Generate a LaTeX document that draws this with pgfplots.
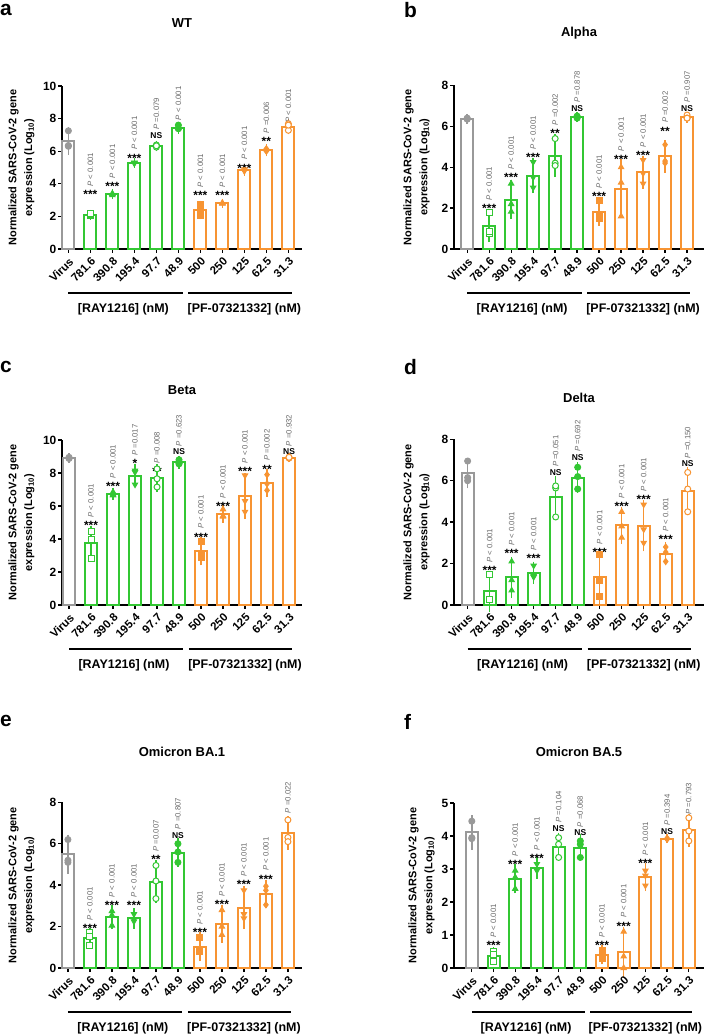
\documentclass[border=0pt]{standalone}
\usepackage{fontspec}
\setmainfont{Liberation Sans}
\usepackage{pgfplots}
\usepackage{pgfplotstable}
\pgfplotsset{compat=1.18}
\definecolor{cg}{RGB}{153,153,153}
\definecolor{cgr}{RGB}{51,199,51}
\definecolor{cor}{RGB}{247,148,50}
\definecolor{pgray}{RGB}{105,105,105}

\pgfdeclareplotmark{dtri*}{%
  \pgfpathmoveto{\pgfqpoint{0pt}{-\pgfplotmarksize}}%
  \pgfpathlineto{\pgfqpointpolar{30}{\pgfplotmarksize}}%
  \pgfpathlineto{\pgfqpointpolar{150}{\pgfplotmarksize}}%
  \pgfpathclose\pgfusepathqfillstroke}

% x mean sd p1 p2 p3 mk
\pgfplotstableread{
x m sd p1 p2 p3 mk
0 6.63 0.60 7.25 6.35 6.30 c
1 2.10 0.06 2.05 2.10 2.15 s
2 3.36 0.06 3.30 3.40 3.38 t
3 5.28 0.05 5.25 5.30 5.28 d
4 6.32 0.08 6.25 6.38 6.33 o
5 7.45 0.12 7.60 7.38 7.40 c
6 2.40 0.32 2.70 2.45 2.05 S
7 2.80 0.04 2.78 2.83 2.80 t
8 4.82 0.08 4.88 4.78 4.80 d
9 6.07 0.14 6.15 6.00 6.08 D
10 7.50 0.22 7.68 7.28 7.60 o
}\tA
\pgfplotstableread{
x m sd p1 p2 p3 mk
0 6.37 0.04 6.35 6.40 6.36 c
1 1.13 0.60 1.80 0.75 0.85 s
2 2.41 0.75 3.20 2.20 1.83 t
3 3.58 0.65 4.25 3.50 3.00 d
4 4.56 0.85 5.40 4.20 4.08 o
5 6.45 0.05 6.45 6.40 6.50 c
6 1.82 0.50 2.35 1.60 1.50 S
7 2.95 1.25 4.00 3.25 1.60 t
8 3.75 0.60 4.35 3.70 3.20 d
9 4.53 0.60 5.10 4.30 4.20 D
10 6.45 0.07 6.55 6.40 6.40 o
}\tB
\pgfplotstableread{
x m sd p1 p2 p3 mk
0 8.90 0.05 8.90 8.95 8.88 c
1 3.74 0.82 4.45 3.94 2.83 s
2 6.73 0.12 6.85 6.70 6.65 t
3 7.83 0.45 8.15 8.05 7.30 d
4 7.68 0.60 8.25 7.65 7.15 o
5 8.65 0.15 8.80 8.60 8.55 c
6 3.25 0.60 3.85 3.00 2.90 S
7 5.52 0.30 5.80 5.35 5.40 t
8 6.60 1.15 7.85 6.30 5.65 d
9 7.40 0.60 7.90 7.35 6.95 D
10 8.93 0.04 8.95 8.90 8.95 o
}\tC
\pgfplotstableread{
x m sd p1 p2 p3 mk
0 6.37 0.55 6.95 6.15 6.00 c
1 0.67 0.80 1.48 0.28 0.25 s
2 1.33 0.80 2.10 1.20 0.70 t
3 1.55 0.35 1.90 1.35 1.40 d
4 5.22 0.80 5.65 5.75 4.25 o
5 6.15 0.55 6.65 6.20 5.60 c
6 1.35 1.10 2.45 1.20 0.40 S
7 3.85 0.70 4.50 3.80 3.25 t
8 3.83 1.05 4.85 3.65 3.00 d
9 2.48 0.38 2.80 2.55 2.10 D
10 5.50 0.95 6.40 5.60 4.50 o
}\tD
\pgfplotstableread{
x m sd p1 p2 p3 mk
0 5.50 0.75 6.20 5.20 5.10 c
1 1.43 0.30 1.70 1.50 1.10 s
2 2.45 0.38 2.75 2.55 2.05 t
3 2.40 0.30 2.60 2.35 2.25 d
4 4.17 0.85 4.95 4.20 3.35 o
5 5.57 0.50 6.00 5.60 5.10 c
6 1.03 0.50 1.45 0.85 0.80 S
7 2.13 0.72 2.80 2.00 1.60 t
8 2.92 0.85 3.75 2.60 2.40 d
9 3.58 0.47 3.95 3.75 3.05 D
10 6.52 0.62 7.15 6.30 6.10 o
}\tE
\pgfplotstableread{
x m sd p1 p2 p3 mk
0 4.11 0.40 4.45 3.95 3.92 c
1 0.37 0.15 0.50 0.40 0.20 s
2 2.70 0.32 2.95 2.75 2.40 t
3 3.03 0.20 3.15 3.00 2.95 d
4 3.68 0.30 3.95 3.75 3.35 o
5 3.65 0.28 3.85 3.75 3.35 c
6 0.40 0.17 0.52 0.38 0.30 S
7 0.48 0.65 1.10 0.35 0.00 t
8 2.75 0.30 2.95 2.80 2.50 d
9 3.92 0.02 3.93 3.90 3.92 D
10 4.18 0.38 4.55 4.15 3.85 o
}\tF

\pgfplotsset{
  panel/.style={
    scale only axis, clip=false,
    axis x line*=bottom, axis y line*=left,
    axis line style={line width=1.3bp, black, -},
    ymin=0,
    xtick={0,...,10},
    xticklabels={},
    every y tick label/.style={anchor=east, font=\bfseries\fontsize{12}{12}\selectfont, inner sep=1.5bp},
    /pgf/number format/assume math mode=true,
    tick align=outside, major tick length=4bp,
    tick style={line width=1.3bp, black},
    ylabel={Normalized SARS-CoV-2 gene\\expression (Log\textsubscript{10})},
  },
  ylab/.style={every axis y label/.style={at={(axis description cs:#1,0.5)}, rotate=90, anchor=center,
     align=center, font=\bfseries\fontsize{11}{16}\selectfont}},
  dots/.style={scatter, only marks, scatter src=explicit symbolic, mark size=3bp, line width=1bp, color=#1,
    scatter/classes={c={mark=*}, o={mark=*, fill=white}, s={mark=square*, fill=white},
      S={mark=square*}, t={mark=triangle*}, d={mark=dtri*}, D={mark=diamond*}}},
}

\newcommand\grp[4]{%
  \addplot[ybar, bar width=12bp, bar shift=0pt, draw=#2, fill=white, line width=2bp,
    restrict x to domain=#3:#4,
    error bars/.cd, y dir=both, y explicit,
    error bar style={line width=1.5bp, draw=#2},
    error mark options={line width=1.5bp, mark size=4bp, draw=#2}]
    table[x=x, y=m, y error=sd] {#1};
  \addplot[dots=#2, restrict x to domain=#3:#4] table[x=x, y=p1, meta=mk] {#1};
  \addplot[dots=#2, restrict x to domain=#3:#4] table[x=x, y=p2, meta=mk] {#1};
  \addplot[dots=#2, restrict x to domain=#3:#4] table[x=x, y=p3, meta=mk] {#1};
}
\newcommand\allgrp[1]{\grp{#1}{cg}{-0.5}{0.5}\grp{#1}{cgr}{0.5}{5.5}\grp{#1}{cor}{5.5}{10.5}}

\newcommand\pl{\textit{P} < 0.001}
\newcommand\pe[1]{\textit{P} =#1}
\newcommand\st[4]{%
  \node[anchor=base, inner sep=0pt, font=\bfseries\fontsize{12}{12}\selectfont] at ([yshift=-7bp]axis cs:#1,#2) {#3};
  \node[rotate=90, anchor=west, inner sep=0pt, font=\fontsize{7.8}{7.8}\selectfont, text=pgray] at ([yshift=5bp]axis cs:#1,#2) {#4};}
\newcommand\nsig[3]{%
  \node[anchor=base, inner sep=0pt, font=\bfseries\fontsize{8.5}{8.5}\selectfont] at ([yshift=-3bp]axis cs:#1,#2) {NS};
  \node[rotate=90, anchor=west, inner sep=0pt, font=\fontsize{7.8}{7.8}\selectfont, text=pgray] at ([yshift=5.5bp]axis cs:#1,#2) {#3};}
\newcommand\ponly[3]{%
  \node[rotate=90, anchor=west, inner sep=0pt, font=\fontsize{7.8}{7.8}\selectfont, text=pgray] at (axis cs:#1,#2) {#3};}
\newcommand\xl[2]{\node[rotate=45, anchor=north east, inner sep=0pt, font=\bfseries\fontsize{11.5}{11.5}\selectfont] at ([xshift=0bp,yshift=-7.5bp]axis cs:#1,0) {#2};}
\newcommand\groups{%
  \xl{0}{Virus}\xl{1}{781.6}\xl{2}{390.8}\xl{3}{195.4}\xl{4}{97.7}\xl{5}{48.9}%
  \xl{6}{500}\xl{7}{250}\xl{8}{125}\xl{9}{62.5}\xl{10}{31.3}%
  \draw[line width=1.2bp] ([yshift=-44bp]axis cs:0,0) -- ([yshift=-44bp]axis cs:5.2,0);
  \draw[line width=1.2bp] ([yshift=-44bp]axis cs:5.45,0) -- ([yshift=-44bp]axis cs:10.15,0);
  \node[font=\bfseries\fontsize{12.5}{12.5}\selectfont] at ([yshift=-60bp]axis cs:2.5,0) {[RAY1216] (nM)};
  \node[font=\bfseries\fontsize{12.5}{12.5}\selectfont] at ([yshift=-60bp]axis cs:8.0,0) {[PF-07321332] (nM)};}
\newcommand\ttl[2]{\node[font=\bfseries\fontsize{13}{13}\selectfont] at ([yshift=#2]rel axis cs:0.5,1) {#1};}

\begin{document}
\begin{tikzpicture}
\path[use as bounding box] (0,0) rectangle (707bp,1034bp);
% panel letters
\node[anchor=base west, inner sep=0pt, font=\bfseries\fontsize{21}{21}\selectfont] at (0bp,1018bp) {a};
\node[anchor=base west, inner sep=0pt, font=\bfseries\fontsize{21}{21}\selectfont] at (404bp,1016bp) {b};
\node[anchor=base west, inner sep=0pt, font=\bfseries\fontsize{21}{21}\selectfont] at (0bp,661bp) {c};
\node[anchor=base west, inner sep=0pt, font=\bfseries\fontsize{21}{21}\selectfont] at (404bp,659bp) {d};
\node[anchor=base west, inner sep=0pt, font=\bfseries\fontsize{21}{21}\selectfont] at (0bp,307bp) {e};
\node[anchor=base west, inner sep=0pt, font=\bfseries\fontsize{21}{21}\selectfont] at (404bp,304bp) {f};

% ---------- a ----------
\begin{axis}[panel, ylab=-0.169, at={(62bp,785bp)}, anchor=south west,
  width=240bp, height=163bp, xmin=-0.29, xmax=10.62, ymax=10, ytick={0,2,...,10}]
\allgrp{\tA}
\st{1}{3.52}{***}{\pl}
\st{2}{4.03}{***}{\pl}
\st{3}{5.76}{***}{\pl}
\nsig{4}{6.99}{\pe{0.079}}
\ponly{5}{7.9}{\pl}
\st{6}{3.46}{***}{\pl}
\st{7}{3.46}{***}{\pl}
\st{8}{5.15}{***}{\pl}
\st{9}{6.78}{**}{\pe{0.006}}
\ponly{10}{7.75}{\pl}
\groups
\ttl{WT}{63bp}
\end{axis}

% ---------- b ----------
\begin{axis}[panel, ylab=-0.15, at={(454bp,785bp)}, anchor=south west,
  width=250bp, height=163.6bp, xmin=-0.6, xmax=10.77, ymax=8, ytick={0,2,...,8}]
\allgrp{\tB}
\st{1}{2.12}{***}{\pl}
\st{2}{3.63}{***}{\pl}
\st{3}{4.61}{***}{\pl}
\st{4}{5.8}{**}{\pe{0.002}}
\nsig{5}{6.89}{\pe{0.878}}
\st{6}{2.69}{***}{\pl}
\st{7}{4.53}{***}{\pl}
\st{8}{4.72}{***}{\pl}
\st{9}{5.91}{**}{\pe{0.002}}
\nsig{10}{6.89}{\pe{0.907}}
\groups
\ttl{Alpha}{52bp}
\end{axis}

% ---------- c ----------
\begin{axis}[panel, ylab=-0.169, at={(62bp,429bp)}, anchor=south west,
  width=240bp, height=165bp, xmin=-0.32, xmax=10.59, ymax=10, ytick={0,2,...,10}]
\allgrp{\tC}
\st{1}{4.99}{***}{\pl}
\st{2}{7.37}{***}{\pl}
\st{3}{8.73}{*}{\pe{0.017}}
\st{4}{8.28}{**}{\pe{0.008}}
\nsig{5}{9.29}{\pe{0.623}}
\st{6}{4.3}{***}{\pl}
\st{7}{6.16}{***}{\pl}
\st{8}{8.28}{***}{\pl}
\st{9}{8.42}{**}{\pe{0.002}}
\nsig{10}{9.29}{\pe{0.932}}
\groups
\ttl{Beta}{50bp}
\end{axis}

% ---------- d ----------
\begin{axis}[panel, ylab=-0.15, at={(454bp,429bp)}, anchor=south west,
  width=250bp, height=165.7bp, xmin=-0.62, xmax=10.74, ymax=8, ytick={0,2,...,8}]
\allgrp{\tD}
\st{1}{1.8}{***}{\pl}
\st{2}{2.61}{***}{\pl}
\st{3}{2.37}{***}{\pl}
\nsig{4}{6.39}{\pe{0.051}}
\nsig{5}{7.12}{\pe{0.692}}
\st{6}{2.69}{***}{\pl}
\st{7}{4.91}{***}{\pl}
\st{8}{5.23}{***}{\pl}
\st{9}{3.3}{***}{\pl}
\nsig{10}{6.81}{\pe{0.150}}
\groups
\ttl{Delta}{41bp}
\end{axis}

% ---------- e ----------
\begin{axis}[panel, ylab=-0.169, at={(62bp,66bp)}, anchor=south west,
  width=240bp, height=165.7bp, xmin=-0.27, xmax=10.64, ymax=8, ytick={0,2,...,8}]
\allgrp{\tE}
\st{1}{2.03}{***}{\pl}
\st{2}{3.16}{***}{\pl}
\st{3}{3.16}{***}{\pl}
\st{4}{5.37}{**}{\pe{0.007}}
\nsig{5}{6.42}{\pe{0.807}}
\st{6}{1.85}{***}{\pl}
\st{7}{3.19}{***}{\pl}
\st{8}{4.16}{***}{\pl}
\st{9}{4.44}{***}{\pl}
\ponly{10}{7.47}{\pe{0.022}}
\groups
\ttl{Omicron BA.1}{50bp}
\end{axis}

% ---------- f ----------
\begin{axis}[panel, ylab=-0.13, at={(454bp,66bp)}, anchor=south west,
  width=250bp, height=165bp, xmin=-0.82, xmax=10.7, ymax=5, ytick={0,1,...,5}]
\allgrp{\tF}
\st{1}{0.76}{***}{\pl}
\st{2}{3.23}{***}{\pl}
\st{3}{3.41}{***}{\pl}
\nsig{4}{4.24}{\pe{0.104}}
\nsig{5}{4.1}{\pe{0.068}}
\st{6}{0.76}{***}{\pl}
\st{7}{1.36}{***}{\pl}
\st{8}{3.25}{***}{\pl}
\nsig{9}{4.14}{\pe{0.394}}
\ponly{10}{4.65}{\pe{0.793}}
\groups
\ttl{Omicron BA.5}{51bp}
\end{axis}
\end{tikzpicture}
\end{document}
